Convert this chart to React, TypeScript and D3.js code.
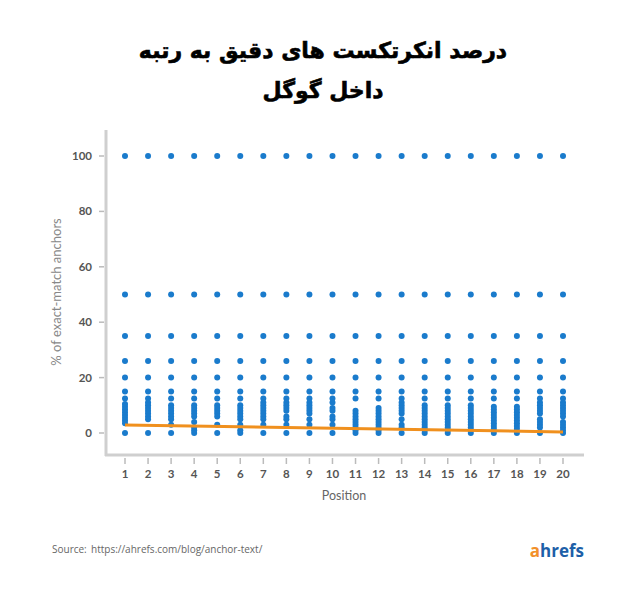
import { useEffect, useRef } from "react"
import * as d3 from "d3"

// x positions (Google rank)
const positions = [1, 2, 3, 4, 5, 6, 7, 8, 9, 10, 11, 12, 13, 14, 15, 16, 17, 18, 19, 20]
// values that show up in every column
const sharedValues = [100, 50, 35, 26, 20, 15, 12.5, 0]
// the dense low cluster in each column (index = position - 1)
const clusterValues = [
  [10.5, 9.5, 8.5, 7.5, 6.5, 5.5, 4.5, 3.5],
  [11, 10, 9, 8, 7, 6, 5],
  [10, 9, 8, 7, 6, 5, 3],
  [10, 9, 8, 7, 6, 4, 2, 1],
  [10, 9, 8, 7, 6, 3],
  [10, 9, 8, 7, 6, 5, 3, 1],
  [11, 10, 9, 8, 7, 6, 5, 3],
  [11, 10, 9, 8, 6, 5, 3],
  [11, 10, 9, 8, 7, 5, 3],
  [11, 9, 8, 6, 5, 3],
  [8, 7, 6, 5, 4, 3, 2, 1],
  [9, 8, 7, 6, 5, 4, 3, 2, 1],
  [11, 10, 9, 8, 7, 5, 3, 2],
  [10, 9, 8, 7, 6, 5, 4, 3, 2, 1],
  [10, 9, 8, 7, 6, 5, 4, 3, 2, 1],
  [10, 9, 8, 7, 6, 5, 4, 3, 2, 1],
  [9.5, 8.5, 7.5, 6.5, 5.5, 4.5, 3.5, 2.5, 1.5],
  [9.5, 8.5, 7.5, 6.5, 5.5, 4.5, 3.5, 2.5, 1.5],
  [11, 10, 9, 8, 7, 5, 4, 3, 2],
  [11, 10, 9, 8, 7, 6, 4, 3, 2, 1],
]
// trend line endpoints [position, value]
const trendPoints: [number, number][] = [
  [1, 2.9],
  [20, 0.4],
]
const yTicks = [0, 20, 40, 60, 80, 100]
const titleLines = ["درصد انکرتکست های دقیق به رتبه", "داخل گوگل"]

export default function App() {
  const svgRef = useRef<SVGSVGElement>(null)

  useEffect(() => {
    if (!svgRef.current) return
    const svg = d3.select(svgRef.current)
    svg.selectAll("*").remove()

    const x = d3.scaleLinear().domain([1, 20]).range([125, 563])
    const y = d3.scaleLinear().domain([0, 100]).range([433, 156])

    svg.append("rect").attr("width", 639).attr("height", 600).attr("fill", "#fff")

    // title
    svg
      .append("g")
      .selectAll("text")
      .data(titleLines)
      .enter()
      .append("text")
      .attr("x", 323)
      .attr("y", (d, i) => 58 + i * 40)
      .attr("text-anchor", "middle")
      .attr("direction", "rtl")
      .attr("font-family", "DejaVu Sans, Noto Sans, sans-serif")
      .attr("font-weight", "bold")
      .attr("font-size", 22)
      .attr("fill", "#000")
      .attr("stroke", "#000")
      .attr("stroke-width", 0.6)
      .text((d) => d)

    // axis lines
    svg
      .append("line")
      .attr("x1", 106)
      .attr("x2", 106)
      .attr("y1", 130)
      .attr("y2", 456)
      .attr("stroke", "#cfcfcf")
      .attr("stroke-width", 3)
    svg
      .append("line")
      .attr("x1", 105)
      .attr("x2", 584)
      .attr("y1", 455)
      .attr("y2", 455)
      .attr("stroke", "#cfcfcf")
      .attr("stroke-width", 3)

    // y ticks
    const yg = svg.append("g")
    yg.selectAll("line")
      .data(yTicks)
      .enter()
      .append("line")
      .attr("x1", 99)
      .attr("x2", 104)
      .attr("y1", (d) => y(d))
      .attr("y2", (d) => y(d))
      .attr("stroke", "#bbb")
      .attr("stroke-width", 1.5)
    yg.selectAll("text")
      .data(yTicks)
      .enter()
      .append("text")
      .attr("x", 92)
      .attr("y", (d) => y(d) + 4)
      .attr("text-anchor", "end")
      .attr("font-family", "Lato, sans-serif")
      .attr("font-weight", "bold")
      .attr("font-size", 11.5)
      .attr("fill", "#555")
      .text((d) => d)

    // x ticks
    const xg = svg.append("g")
    xg.selectAll("line")
      .data(positions)
      .enter()
      .append("line")
      .attr("x1", (d) => x(d))
      .attr("x2", (d) => x(d))
      .attr("y1", 458)
      .attr("y2", 464)
      .attr("stroke", "#bbb")
      .attr("stroke-width", 1.5)
    xg.selectAll("text")
      .data(positions)
      .enter()
      .append("text")
      .attr("x", (d) => x(d))
      .attr("y", 478)
      .attr("text-anchor", "middle")
      .attr("font-family", "Lato, sans-serif")
      .attr("font-weight", "bold")
      .attr("font-size", 11.5)
      .attr("fill", "#555")
      .text((d) => d)

    // axis titles
    svg
      .append("text")
      .attr("transform", `translate(61,292) rotate(-90)`)
      .attr("text-anchor", "middle")
      .attr("font-family", "Lato, sans-serif")
      .attr("font-size", 13)
      .attr("fill", "#888")
      .text("% of exact-match anchors")
    svg
      .append("text")
      .attr("x", 344)
      .attr("y", 500)
      .attr("text-anchor", "middle")
      .attr("font-family", "Lato, sans-serif")
      .attr("font-size", 12.5)
      .attr("fill", "#666")
      .text("Position")

    // points
    const points = positions.flatMap((p, i) =>
      [...sharedValues, ...clusterValues[i]].map((v) => ({ p, v }))
    )
    svg
      .append("g")
      .selectAll("circle")
      .data(points)
      .enter()
      .append("circle")
      .attr("cx", (d) => x(d.p))
      .attr("cy", (d) => y(d.v))
      .attr("r", 3)
      .attr("fill", "#1a7bcc")

    // trend line
    const trend = d3
      .line<[number, number]>()
      .x((d) => x(d[0]))
      .y((d) => y(d[1]))
    svg
      .append("path")
      .datum(trendPoints)
      .attr("fill", "none")
      .attr("stroke", "#f0901e")
      .attr("stroke-width", 3)
      .attr("d", trend)

    // footer
    svg
      .append("text")
      .attr("x", 52)
      .attr("y", 553)
      .attr("font-family", "Open Sans, sans-serif")
      .attr("font-size", 10)
      .attr("fill", "#666")
      .text("Source:")
    svg
      .append("text")
      .attr("x", 91)
      .attr("y", 553)
      .attr("font-family", "Open Sans, sans-serif")
      .attr("font-size", 10)
      .attr("fill", "#666")
      .text("https://ahrefs.com/blog/anchor-text/")
    const logo = svg
      .append("text")
      .attr("x", 584)
      .attr("y", 557)
      .attr("text-anchor", "end")
      .attr("font-family", "Open Sans, sans-serif")
      .attr("font-weight", "bold")
      .attr("font-size", 17)
    logo.append("tspan").attr("fill", "#f2902a").text("a")
    logo.append("tspan").attr("fill", "#1d5fa8").text("hrefs")
  }, [])

  return (
    <svg
      ref={svgRef}
      width={639}
      height={600}
      style={{ position: "absolute", left: 0, top: 0 }}
    />
  )
}
